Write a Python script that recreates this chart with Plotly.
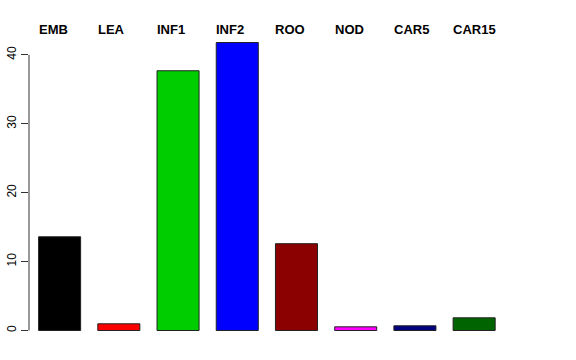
import plotly.graph_objects as go

categories = ["EMB", "LEA", "INF1", "INF2", "ROO", "NOD", "CAR5", "CAR15"]
values = [13.6, 0.97, 37.7, 41.8, 12.6, 0.53, 0.68, 1.84]
colors = ["#000000", "#FF0000", "#00CD00", "#0000FF", "#8B0000", "#FF00FF", "#000080", "#006400"]
y_ticks = [0, 10, 20, 30, 40]

fig = go.Figure()
fig.add_trace(go.Bar(
    x=categories, y=values,
    marker=dict(color=colors, line=dict(color="#222222", width=1)),
    showlegend=False, hoverinfo="skip",
))

# top labels, left-aligned near each bar's left edge
for i, c in enumerate(categories):
    fig.add_annotation(
        x=i - 0.355, y=1, xref="x", yref="paper",
        text="<b>%s</b>" % c, showarrow=False,
        xanchor="left", yanchor="middle", yshift=2, xshift=-2,
        font=dict(family="Liberation Sans, Arial, sans-serif", size=13, color="black"),
    )

# y axis line spanning first to last tick (R style)
fig.add_shape(type="line", xref="paper", yref="y", x0=0, x1=0,
              y0=y_ticks[0], y1=y_ticks[-1], line=dict(color="#333333", width=1))

fig.update_layout(
    width=576, height=360,
    margin=dict(l=29, r=16, t=31, b=18),
    paper_bgcolor="white", plot_bgcolor="white",
    bargap=0.29,
    xaxis=dict(range=[-0.517, 8.45], showticklabels=False, showgrid=False,
               zeroline=False, showline=False, ticks="", automargin=False),
    yaxis=dict(range=[-1.67, 43.47], tickvals=y_ticks, ticktext=[str(v) for v in y_ticks],
               ticks="outside", ticklen=7, tickcolor="#333333", tickwidth=1,
               tickangle=-90, showgrid=False, zeroline=False, showline=False,
               automargin=False,
               tickfont=dict(family="Liberation Sans, Arial, sans-serif", size=12, color="black")),
    font=dict(family="Liberation Sans, Arial, sans-serif"),
)

fig.write_html("out.html")
